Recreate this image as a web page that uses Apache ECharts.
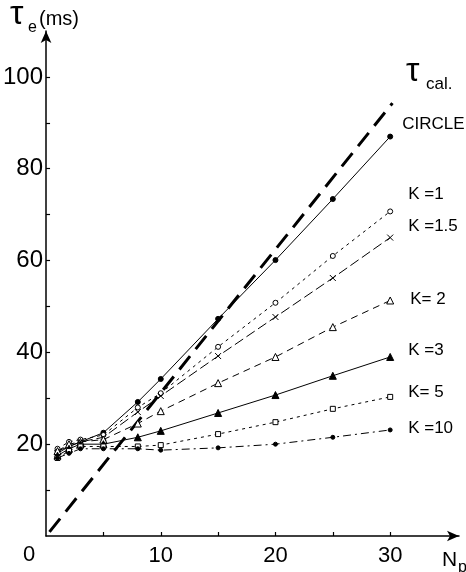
<!DOCTYPE html>
<html>
<head>
<meta charset="utf-8">
<script src="https://cdn.jsdelivr.net/npm/echarts@6/dist/echarts.min.js"></script>
<style>
html,body{margin:0;padding:0;background:#fff;}
#c{width:466px;height:572px;}
</style>
</head>
<body>
<div id="c"></div>
<script>
// ---- data ----
const Np = [1, 2, 3, 5, 8, 10, 15, 20, 25, 30];
const seriesNames = ['CIRCLE', 'K =1', 'K =1.5', 'K= 2', 'K =3', 'K= 5', 'K =10'];
const circle = [18.5, 19.5, 20.5, 22.5, 29.2, 34.2, 47.3, 60.1, 73.4, 87.0];
const k1     = [19.0, 20.5, 21.0, 22.0, 28.0, 31.1, 41.2, 50.8, 61.0, 70.7];
const k15    = [18.0, 19.5, 20.5, 21.5, 27.0, 30.5, 39.2, 47.7, 56.2, 65.0];
const k2     = [18.5, 20.0, 20.5, 21.0, 24.5, 27.2, 33.3, 39.0, 45.5, 51.3];
const k3     = [17.5, 19.0, 20.0, 20.0, 21.5, 22.9, 26.8, 30.7, 34.9, 39.0];
const k5     = [17.0, 18.5, 19.5, 19.5, 19.5, 19.8, 22.2, 24.8, 27.7, 30.3];
const k10    = [17.0, 18.0, 19.0, 19.0, 19.0, 18.7, 19.2, 20.0, 21.5, 23.1];
const tauCalX = [0.3, 30.2];
const tauCalY = [0.9, 94.3];
const xTickValues = [5, 10, 15, 20, 25, 30];
const xTickLabels = [10, 20, 30];
const yTickValues = [10, 20, 30, 40, 50, 60, 70, 80, 90, 100];
const yTickLabels = [20, 40, 60, 80, 100];

const values = [circle, k1, k15, k2, k3, k5, k10];

// ---- styles ----
const FONT = 'Liberation Sans';
const X_PATH = 'path://M0,0L10,10M10,0L0,10';
const styles = [
  {symbol: 'circle', size: 5, fill: '#000', dash: 'solid', off: -12, dist: 12},
  {symbol: 'circle', size: 5, fill: '#fff', dash: [3, 4], off: -17, dist: 18},
  {symbol: X_PATH, size: 6, fill: 'none', dash: [10, 4], off: -11, dist: 18},
  {symbol: 'triangle', size: 7, fill: '#fff', dash: [7, 5], off: -1, dist: 20},
  {symbol: 'triangle', size: 7, fill: '#000', dash: 'solid', off: -7, dist: 18},
  {symbol: 'rect', size: 5, fill: '#fff', dash: [3, 4], off: -5, dist: 18},
  {symbol: 'circle', size: 4, fill: '#000', dash: [8, 4, 2, 4], off: -2, dist: 18}
];

const series = values.map((vals, i) => {
  const s = styles[i];
  return {
    name: seriesNames[i],
    type: 'line',
    data: Np.map((x, j) => [x, vals[j]]),
    symbol: s.symbol,
    symbolSize: s.size,
    showAllSymbol: true,
    lineStyle: {color: '#000', width: 1, type: s.dash},
    itemStyle: {color: s.fill, borderColor: '#000', borderWidth: 1},
    endLabel: {
      show: true,
      formatter: seriesNames[i],
      color: '#000',
      fontFamily: FONT,
      fontSize: 17,
      distance: s.dist,
      offset: [0, s.off]
    },
    z: 3
  };
});

series.push({
  name: 'tcal',
  type: 'line',
  data: tauCalX.map((x, j) => [x, tauCalY[j]]),
  symbol: 'none',
  lineStyle: {color: '#000', width: 3, type: [17, 9]},
  z: 2
});

const chart = echarts.init(document.getElementById('c'), null, {renderer: 'canvas'});
chart.setOption({
  animation: false,
  backgroundColor: '#fff',
  grid: {left: 45, right: 7, top: 31, bottom: 36},
  xAxis: {
    type: 'value', min: 0, max: 36,
    splitLine: {show: false},
    axisLine: {lineStyle: {color: '#000', width: 1.5}, symbol: ['none', 'arrow'], symbolSize: [8, 12]},
    axisTick: {inside: true, length: 4, lineStyle: {color: '#000', width: 1.2}, customValues: xTickValues},
    axisLabel: {customValues: xTickLabels, color: '#000', fontFamily: FONT, fontSize: 22, margin: 9}
  },
  yAxis: {
    type: 'value', min: 0, max: 110,
    splitLine: {show: false},
    axisLine: {lineStyle: {color: '#000', width: 1.5}, symbol: ['none', 'arrow'], symbolSize: [8, 12]},
    axisTick: {inside: true, length: 4, lineStyle: {color: '#000', width: 1.2}, customValues: yTickValues},
    axisLabel: {customValues: yTickLabels, color: '#000', fontFamily: FONT, fontSize: 24, margin: 3}
  },
  graphic: [
    {type: 'text', left: 23, top: 544, style: {text: '0', font: '22px ' + FONT, fill: '#000'}},
    {type: 'text', left: 442, top: 550, style: {text: 'N', font: '21px ' + FONT, fill: '#000'}},
    {type: 'text', left: 458, top: 560, style: {text: 'p', font: '16px ' + FONT, fill: '#000'}},
    {type: 'text', left: 10, top: -2, style: {text: 'τ', font: '34px ' + FONT, fill: '#000'}},
    {type: 'text', left: 28, top: 20, style: {text: 'e', font: '16px ' + FONT, fill: '#000'}},
    {type: 'text', left: 39, top: 9, style: {text: '(ms)', font: '20px ' + FONT, fill: '#000'}},
    {type: 'text', left: 406, top: 55, style: {text: 'τ', font: '34px ' + FONT, fill: '#000'}},
    {type: 'text', left: 426, top: 76, style: {text: 'cal.', font: '17px ' + FONT, fill: '#000'}}
  ],
  series: series
});
</script>
</body>
</html>
